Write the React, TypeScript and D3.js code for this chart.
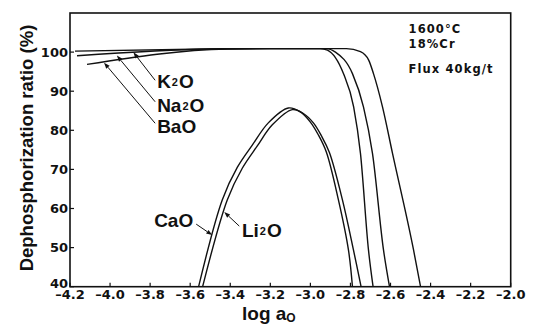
import React, { useEffect, useRef } from 'react';
import * as d3 from 'd3';

// log aO values and dephosphorization ratio (%) for each flux
const k2oX = [-4.175, -3.45, -3.2, -2.95, -2.915, -2.835, -2.784, -2.75, -2.71, -2.687];
const k2oY = [100.25, 100.85, 100.9, 100.9, 100.5, 94.5, 86.0, 74.1, 49.4, 40];

const na2oX = [-4.165, -3.5, -3.2, -2.92, -2.875, -2.79, -2.735, -2.69, -2.635, -2.605];
const na2oY = [99.05, 100.8, 100.9, 100.9, 100.0, 94.5, 86.0, 74.1, 49.4, 40];

const baoX = [-4.115, -3.415, -3.2, -2.82, -2.75, -2.709, -2.685, -2.64, -2.59, -2.485, -2.45];
const baoY = [96.85, 100.8, 100.9, 100.9, 100.1, 97.95, 94.5, 86.0, 74.1, 49.4, 40];

const caoX = [-3.558, -3.44, -3.365, -3.29, -3.21, -3.11, -3.05, -3.0, -2.96, -2.92, -2.86, -2.81, -2.79];
const caoY = [40, 62.2, 70.5, 76.2, 81.9, 85.7, 84.7, 82.1, 78.8, 74.4, 62.2, 49.4, 40];

const li2oX = [-3.538, -3.415, -3.34, -3.265, -3.19, -3.09, -3.035, -2.985, -2.945, -2.905, -2.84, -2.785, -2.747];
const li2oY = [40, 62.2, 70.3, 76.0, 81.4, 85.3, 84.3, 81.9, 78.6, 74.3, 62.2, 49.4, 40];

const xTicks = [-4.2, -4.0, -3.8, -3.6, -3.4, -3.2, -3.0, -2.8, -2.6, -2.4, -2.2, -2.0];
const yTicks = [40, 50, 60, 70, 80, 90, 100];

// label anchor and leader [fromX, fromY, tipX, tipY], all in data units
const seriesLabels = [
  { name: 'K', sub: '2', tail: 'O', x: -3.765, y: 90.7, leader: [-3.775, 92.8, -3.8835, 99.95] },
  { name: 'Na', sub: '2', tail: 'O', x: -3.765, y: 84.66, leader: [-3.775, 87.3, -3.966, 99.1] },
  { name: 'BaO', sub: '', tail: '', x: -3.765, y: 79.3, leader: [-3.775, 81.8, -4.03, 97.3] },
  { name: 'CaO', sub: '', tail: '', x: -3.78, y: 55.3, leader: [-3.57, 56.0, -3.49, 53.2] },
  { name: 'Li', sub: '2', tail: 'O', x: -3.3415, y: 52.8, leader: [-3.355, 55.5, -3.43, 59.1] },
];

const conditions = ['1600°C', '18%Cr', 'Flux 40kg/t'];
const conditionY = [104.85, 101.0, 94.6];

export default function App() {
  const svgRef = useRef<SVGSVGElement>(null);

  useEffect(() => {
    if (!svgRef.current) return;
    d3.select(svgRef.current).selectAll('*').remove();

    const width = 533;
    const height = 325;
    const margin = { top: 13, right: 22.3, bottom: 38.3, left: 70 };
    const svg = d3.select(svgRef.current).attr('width', width).attr('height', height);

    const x = d3.scaleLinear().domain([-4.2, -2.0]).range([margin.left, width - margin.right]);
    const y = d3.scaleLinear().domain([40, 110]).range([height - margin.bottom, margin.top]);
    const ink = '#111';

    // Frame
    svg.append('rect')
      .attr('x', x(-4.2))
      .attr('y', y(110))
      .attr('width', x(-2.0) - x(-4.2))
      .attr('height', y(40) - y(110))
      .attr('fill', 'none')
      .attr('stroke', ink)
      .attr('stroke-width', 1.6);

    // Ticks (inward)
    svg.append('g')
      .selectAll('line')
      .data(xTicks)
      .join('line')
      .attr('x1', d => x(d))
      .attr('x2', d => x(d))
      .attr('y1', y(40))
      .attr('y2', y(40) - 4)
      .attr('stroke', ink)
      .attr('stroke-width', 1.2);

    svg.append('g')
      .selectAll('line')
      .data(yTicks)
      .join('line')
      .attr('x1', x(-4.2))
      .attr('x2', x(-4.2) + 4)
      .attr('y1', d => y(d))
      .attr('y2', d => y(d))
      .attr('stroke', ink)
      .attr('stroke-width', 1.2);

    const tickFont = 'DejaVu Sans, sans-serif';

    svg.append('g')
      .selectAll('text')
      .data(xTicks)
      .join('text')
      .attr('x', d => x(d))
      .attr('y', y(40) + 12.5)
      .attr('text-anchor', 'middle')
      .style('font-family', tickFont)
      .style('font-weight', 'bold')
      .style('font-size', '13px')
      .style('fill', ink)
      .text(d => d.toFixed(1).replace('-', '\u2013'));

    svg.append('g')
      .selectAll('text')
      .data(yTicks)
      .join('text')
      .attr('x', x(-4.2) - 2)
      .attr('y', d => y(d) + (d === 40 ? 1 : 4.5))
      .attr('text-anchor', 'end')
      .style('font-family', tickFont)
      .style('font-weight', 'bold')
      .style('font-size', '13px')
      .style('fill', ink)
      .text(d => String(d));

    // Axis labels
    svg.append('text')
      .attr('transform', `translate(33,148) rotate(-90)`)
      .attr('text-anchor', 'middle')
      .style('font-family', 'Liberation Sans, Arial, sans-serif')
      .style('font-weight', 'bold')
      .style('font-size', '18.5px')
      .style('fill', ink)
      .text('Dephosphorization ratio (%)');

    const xl = svg.append('text')
      .attr('x', 242)
      .attr('y', 320)
      .style('font-family', 'Liberation Sans, Arial, sans-serif')
      .style('font-weight', 'bold')
      .style('font-size', '19px')
      .style('fill', ink);
    xl.append('tspan').text('log a');
    xl.append('tspan').attr('dy', 2).style('font-size', '12px').text('O');

    // Curves
    const flat = d3.line<[number, number]>()
      .x(d => x(d[0]))
      .y(d => y(d[1]))
      .curve(d3.curveMonotoneX);
    const hump = d3.line<[number, number]>()
      .x(d => x(d[0]))
      .y(d => y(d[1]))
      .curve(d3.curveCatmullRom.alpha(0.5));

    const series: [number[], number[], any][] = [
      [k2oX, k2oY, flat],
      [na2oX, na2oY, flat],
      [baoX, baoY, flat],
      [caoX, caoY, hump],
      [li2oX, li2oY, hump],
    ];
    series.forEach(([xs, ys, gen]) => {
      svg.append('path')
        .datum(xs.map((v, i) => [v, ys[i]] as [number, number]))
        .attr('fill', 'none')
        .attr('stroke', ink)
        .attr('stroke-width', 1.4)
        .attr('d', gen);
    });

    // Series labels with leader arrows
    seriesLabels.forEach(s => {
      const [fx, fy, tx, ty] = s.leader;
      const x1 = x(fx), y1 = y(fy), x2 = x(tx), y2 = y(ty);
      const ang = Math.atan2(y2 - y1, x2 - x1);
      const len = 6, half = 2.2;
      const bx = x2 - len * Math.cos(ang), by = y2 - len * Math.sin(ang);
      svg.append('line')
        .attr('x1', x1).attr('y1', y1)
        .attr('x2', bx).attr('y2', by)
        .attr('stroke', ink)
        .attr('stroke-width', 1);
      svg.append('path')
        .attr('d', `M${x2},${y2}L${bx - half * Math.sin(ang)},${by + half * Math.cos(ang)}L${bx + half * Math.sin(ang)},${by - half * Math.cos(ang)}Z`)
        .attr('fill', ink);

      const t = svg.append('text')
        .attr('x', x(s.x))
        .attr('y', y(s.y))
        .style('font-family', 'Liberation Sans, Arial, sans-serif')
        .style('font-weight', 'bold')
        .style('font-size', '19px')
        .style('fill', ink);
      t.append('tspan').text(s.name);
      if (s.sub) {
        t.append('tspan').attr('dx', 1).attr('dy', -2).style('font-size', '11px').text(s.sub);
        t.append('tspan').attr('dx', 1).attr('dy', 2).text(s.tail);
      }
    });

    // Conditions
    svg.append('g')
      .selectAll('text')
      .data(conditions)
      .join('text')
      .attr('x', x(-2.51))
      .attr('y', (d, i) => y(conditionY[i]))
      .style('font-family', tickFont)
      .style('font-weight', 'bold')
      .style('font-size', '11.5px')
      .style('letter-spacing', '1.1px')
      .style('fill', ink)
      .text(d => d);
  }, []);

  return (
    <div style={{ position: 'absolute', left: 0, top: 0, background: '#fff' }}>
      <svg ref={svgRef}></svg>
    </div>
  );
}
